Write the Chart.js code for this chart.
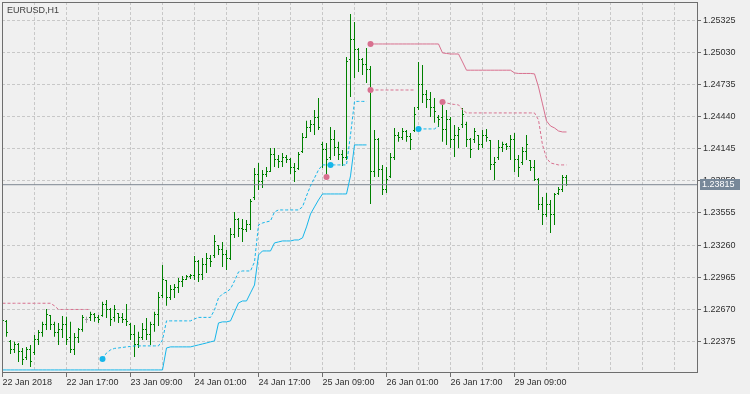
<!DOCTYPE html>
<html>
<head>
<meta charset="utf-8">
<title>EURUSD,H1</title>
<script src="https://cdn.jsdelivr.net/npm/chart.js@4.4.1/dist/chart.umd.min.js"></script>
<style>
  html, body { margin: 0; padding: 0; background: #f0f0f0; }
  #wrap { width: 750px; height: 394px; }
</style>
</head>
<body>
<div id="wrap"><canvas id="chart" width="750" height="394"></canvas></div>
<script>
// EURUSD H1, 22 Jan 2018 00:00 .. 29 Jan 2018 21:00 (142 hourly bars)
const symbolTitle = 'EURUSD,H1';
const timeLabels = ['22 Jan 2018', '22 Jan 17:00', '23 Jan 09:00', '24 Jan 01:00', '24 Jan 17:00',
  '25 Jan 09:00', '26 Jan 01:00', '26 Jan 17:00', '29 Jan 09:00'];
const priceTicks = [1.22375, 1.22670, 1.22965, 1.23260, 1.23555, 1.23850,
  1.24145, 1.24440, 1.24735, 1.25030, 1.25325];
const lastPrice = 1.23815;

const opens = [
  1.22535, 1.22554, 1.22370, 1.22296, 1.22342, 1.22278, 1.22222, 1.22296, 1.22268, 1.22388,
  1.22452, 1.22526, 1.22609, 1.22526, 1.22452, 1.22480, 1.22526, 1.22406, 1.22296, 1.22406,
  1.22480, 1.22572, 1.22590, 1.22618, 1.22590, 1.22609, 1.22710, 1.22664, 1.22590, 1.22627,
  1.22590, 1.22572, 1.22526, 1.22434, 1.22342, 1.22406, 1.22480, 1.22434, 1.22526, 1.22618,
  1.22793, 1.22930, 1.22774, 1.22847, 1.22866, 1.22921, 1.22948, 1.22967, 1.22976, 1.23105,
  1.22985, 1.23077, 1.23141, 1.23160, 1.23252, 1.23215, 1.23169, 1.23141, 1.23353, 1.23491,
  1.23417, 1.23399, 1.23445, 1.23693, 1.23905, 1.23840, 1.23905, 1.23933, 1.24089, 1.24043,
  1.24025, 1.24061, 1.24043, 1.23969, 1.23960, 1.24116, 1.24245, 1.24337, 1.24365, 1.24429,
  1.24181, 1.24135, 1.24061, 1.24227, 1.24153, 1.24089, 1.24061, 1.24962, 1.25146, 1.25054,
  1.24962, 1.24916, 1.24870, 1.23933, 1.24227, 1.23951, 1.23767, 1.23887, 1.24061, 1.24272,
  1.24245, 1.24300, 1.24254, 1.24310, 1.24521, 1.24732, 1.24640, 1.24595, 1.24521, 1.24429,
  1.24429, 1.24319, 1.24411, 1.24227, 1.24272, 1.24365, 1.24365, 1.24227, 1.24227, 1.24263,
  1.24181, 1.24272, 1.24218, 1.23997, 1.24061, 1.24153, 1.24181, 1.24162, 1.24227, 1.24043,
  1.24015, 1.24116, 1.24034, 1.23969, 1.23859, 1.23629, 1.23537, 1.23629, 1.23537, 1.23730,
  1.23767, 1.23877
];
const highs = [
  1.22590, 1.22572, 1.22388, 1.22370, 1.22360, 1.22314, 1.22324, 1.22342, 1.22434, 1.22480,
  1.22554, 1.22673, 1.22618, 1.22554, 1.22544, 1.22609, 1.22600, 1.22554, 1.22452, 1.22498,
  1.22618, 1.22600, 1.22646, 1.22636, 1.22618, 1.22738, 1.22756, 1.22682, 1.22710, 1.22636,
  1.22636, 1.22719, 1.22544, 1.22526, 1.22462, 1.22544, 1.22590, 1.22554, 1.22646, 1.22829,
  1.23076, 1.22939, 1.22893, 1.22902, 1.22958, 1.22976, 1.22985, 1.22994, 1.23160, 1.23123,
  1.23141, 1.23187, 1.23169, 1.23353, 1.23261, 1.23289, 1.23215, 1.23417, 1.23565, 1.23509,
  1.23500, 1.23491, 1.23684, 1.23969, 1.24015, 1.23951, 1.23979, 1.24153, 1.24153, 1.24089,
  1.24107, 1.24089, 1.24061, 1.24015, 1.24116, 1.24291, 1.24402, 1.24411, 1.24503, 1.24613,
  1.24209, 1.24199, 1.24346, 1.24319, 1.24209, 1.24135, 1.24990, 1.25385, 1.25312, 1.25073,
  1.24981, 1.25073, 1.24907, 1.24319, 1.24245, 1.23997, 1.23979, 1.24107, 1.24337, 1.24300,
  1.24337, 1.24319, 1.24291, 1.24530, 1.24944, 1.24916, 1.24686, 1.24668, 1.24613, 1.24457,
  1.24548, 1.24503, 1.24438, 1.24365, 1.24346, 1.24521, 1.24393, 1.24245, 1.24337, 1.24272,
  1.24319, 1.24328, 1.24227, 1.24070, 1.24227, 1.24209, 1.24199, 1.24272, 1.24291, 1.24089,
  1.24162, 1.24272, 1.24043, 1.24043, 1.23877, 1.23703, 1.23739, 1.23675, 1.23739, 1.23794,
  1.23905, 1.23905
];
const lows = [
  1.22517, 1.22416, 1.22259, 1.22268, 1.22186, 1.22158, 1.22204, 1.22140, 1.22250, 1.22342,
  1.22416, 1.22480, 1.22480, 1.22416, 1.22342, 1.22406, 1.22342, 1.22268, 1.22250, 1.22360,
  1.22462, 1.22544, 1.22563, 1.22554, 1.22544, 1.22600, 1.22590, 1.22517, 1.22554, 1.22544,
  1.22544, 1.22517, 1.22388, 1.22232, 1.22314, 1.22388, 1.22388, 1.22342, 1.22462, 1.22517,
  1.22774, 1.22701, 1.22756, 1.22774, 1.22820, 1.22875, 1.22939, 1.22948, 1.22939, 1.22921,
  1.22939, 1.23003, 1.23059, 1.23141, 1.23169, 1.23059, 1.23031, 1.23123, 1.23325, 1.23334,
  1.23289, 1.23381, 1.23399, 1.23675, 1.23767, 1.23785, 1.23887, 1.23933, 1.23979, 1.23969,
  1.23979, 1.24015, 1.23914, 1.23840, 1.23951, 1.24107, 1.24245, 1.24300, 1.24272, 1.24319,
  1.23969, 1.23887, 1.24043, 1.24080, 1.24043, 1.23988, 1.24043, 1.24622, 1.24797, 1.24852,
  1.24824, 1.24751, 1.23638, 1.23887, 1.23887, 1.23721, 1.23739, 1.23877, 1.24043, 1.24209,
  1.24227, 1.24209, 1.24135, 1.24300, 1.24503, 1.24567, 1.24521, 1.24438, 1.24384, 1.24346,
  1.24209, 1.24181, 1.24153, 1.24070, 1.24153, 1.24337, 1.24162, 1.24061, 1.24199, 1.24135,
  1.24153, 1.24209, 1.23951, 1.23859, 1.24043, 1.24116, 1.24135, 1.24043, 1.23933, 1.23887,
  1.23997, 1.24043, 1.23942, 1.23850, 1.23583, 1.23445, 1.23519, 1.23372, 1.23445, 1.23721,
  1.23748, 1.23805
];
const closes = [
  1.22563, 1.22452, 1.22296, 1.22342, 1.22278, 1.22204, 1.22296, 1.22186, 1.22388, 1.22452,
  1.22526, 1.22618, 1.22526, 1.22452, 1.22480, 1.22526, 1.22388, 1.22296, 1.22406, 1.22480,
  1.22590, 1.22572, 1.22618, 1.22590, 1.22572, 1.22710, 1.22664, 1.22572, 1.22664, 1.22590,
  1.22572, 1.22554, 1.22434, 1.22342, 1.22406, 1.22480, 1.22434, 1.22526, 1.22618, 1.22774,
  1.22939, 1.22774, 1.22847, 1.22866, 1.22921, 1.22948, 1.22967, 1.22976, 1.23105, 1.22985,
  1.23077, 1.23141, 1.23105, 1.23289, 1.23215, 1.23169, 1.23141, 1.23353, 1.23491, 1.23417,
  1.23399, 1.23445, 1.23657, 1.23905, 1.23840, 1.23905, 1.23933, 1.24089, 1.24043, 1.24025,
  1.24061, 1.24043, 1.23969, 1.23933, 1.24089, 1.24245, 1.24337, 1.24365, 1.24429, 1.24337,
  1.24135, 1.24043, 1.24227, 1.24153, 1.24089, 1.24061, 1.24944, 1.25146, 1.25054, 1.24962,
  1.24916, 1.24870, 1.23933, 1.24227, 1.23951, 1.23767, 1.23859, 1.24061, 1.24272, 1.24245,
  1.24300, 1.24254, 1.24227, 1.24457, 1.24732, 1.24640, 1.24595, 1.24521, 1.24485, 1.24411,
  1.24319, 1.24411, 1.24227, 1.24272, 1.24319, 1.24457, 1.24227, 1.24135, 1.24300, 1.24181,
  1.24272, 1.24245, 1.23997, 1.24015, 1.24153, 1.24181, 1.24162, 1.24227, 1.24043, 1.23969,
  1.24116, 1.24181, 1.23969, 1.23859, 1.23629, 1.23537, 1.23629, 1.23537, 1.23721, 1.23767,
  1.23877, 1.23815
];

// channel indicator, each piece starts at the given bar index
const upperSolidStart = 92;
const upperSolid = [
  1.25109, 1.25109, 1.25109, 1.25109, 1.25109, 1.25109, 1.25109, 1.25109, 1.25109, 1.25109,
  1.25109, 1.25109, 1.25109, 1.25109, 1.25109, 1.25109, 1.25109, 1.25109,
  1.25027, 1.25022, 1.25017, 1.25017, 1.25017, 1.24944,
  1.24868, 1.24868, 1.24868, 1.24868, 1.24868, 1.24868, 1.24868, 1.24868, 1.24868, 1.24868,
  1.24868, 1.24868, 1.24843, 1.24838, 1.24838, 1.24838, 1.24838, 1.24834,
  1.24714, 1.24558, 1.24401, 1.24355, 1.24337, 1.24309, 1.24300, 1.24300
];
const upperDashAStart = 0;
const upperDashA = [
  1.22725, 1.22725, 1.22725, 1.22725, 1.22725, 1.22725, 1.22725, 1.22725, 1.22725, 1.22725,
  1.22725, 1.22725, 1.22725, 1.22701, 1.22668, 1.22668, 1.22668, 1.22668, 1.22668, 1.22668,
  1.22668, 1.22668, 1.22668
];
const upperDashBStart = 92;
const upperDashB = [1.24686, 1.24686, 1.24686, 1.24686, 1.24686, 1.24686,
  1.24686, 1.24686, 1.24686, 1.24686, 1.24686, 1.24686];
const upperDashCStart = 110;
const upperDashC = [
  1.24576, 1.24567, 1.24558, 1.24553, 1.24549, 1.24503,
  1.24475, 1.24475, 1.24475, 1.24475, 1.24475, 1.24475, 1.24475, 1.24475, 1.24475,
  1.24475, 1.24475, 1.24475, 1.24475, 1.24475, 1.24475, 1.24475, 1.24475, 1.24475,
  1.24411, 1.24181, 1.24061, 1.24015, 1.24006, 1.23997, 1.23997, 1.23997
];
const lowerSolidStart = 0;
const lowerSolid = [
  1.22112, 1.22112, 1.22112, 1.22112, 1.22112, 1.22112, 1.22112, 1.22112, 1.22112, 1.22112,
  1.22112, 1.22112, 1.22112, 1.22112, 1.22112, 1.22112, 1.22112, 1.22112, 1.22112, 1.22112,
  1.22112, 1.22112, 1.22112, 1.22112, 1.22112, 1.22112, 1.22112, 1.22112, 1.22112, 1.22112,
  1.22112, 1.22112, 1.22112, 1.22112, 1.22112, 1.22112, 1.22112, 1.22112, 1.22112, 1.22112,
  1.22112, 1.22314, 1.22324, 1.22324, 1.22324, 1.22324, 1.22324, 1.22324, 1.22333, 1.22342,
  1.22351, 1.22360, 1.22370, 1.22379, 1.22544, 1.22554, 1.22554, 1.22563, 1.22646, 1.22728,
  1.22746, 1.22746, 1.22820, 1.22893, 1.23169, 1.23206, 1.23206, 1.23206, 1.23280, 1.23289,
  1.23298, 1.23298, 1.23298, 1.23307, 1.23307, 1.23326, 1.23427, 1.23546, 1.23611, 1.23675,
  1.23730, 1.23730, 1.23730, 1.23730, 1.23730, 1.23730, 1.23730, 1.23896, 1.24181, 1.24181,
  1.24181, 1.24181
];
const lowerDashAStart = 25;
const lowerDashA = [
  1.22213, 1.22268, 1.22296, 1.22310, 1.22314, 1.22319, 1.22324, 1.22328,
  1.22333, 1.22333, 1.22333, 1.22333, 1.22333, 1.22333, 1.22333, 1.22388,
  1.22563, 1.22563, 1.22563, 1.22563, 1.22563, 1.22563, 1.22563, 1.22581,
  1.22595, 1.22595, 1.22595, 1.22595, 1.22664, 1.22774, 1.22811, 1.22829, 1.22857,
  1.22930, 1.23013, 1.23022, 1.23022, 1.23022, 1.23105, 1.23445, 1.23463, 1.23473,
  1.23482, 1.23565, 1.23583, 1.23583, 1.23583, 1.23583, 1.23583, 1.23583, 1.23611,
  1.23712, 1.23804, 1.23877, 1.23951, 1.23997, 1.23997, 1.23997, 1.23997, 1.23997,
  1.23997, 1.23997, 1.24272, 1.24581, 1.24581, 1.24581, 1.24581
];
const lowerDashBStart = 104;
const lowerDashB = [1.24328, 1.24328, 1.24328, 1.24328, 1.24328, 1.24355];

// signal dots: bar index and price
const upperDotBars = [81, 92, 92, 110];
const upperDotPrices = [1.23887, 1.25109, 1.24686, 1.24576];
const lowerDotBars = [25, 82, 104];
const lowerDotPrices = [1.22213, 1.23997, 1.24328];

const GREEN = 'rgb(0,128,0)';
const DOJI = '#a0a0a0';
const PINK = '#d8708f';
const CYAN = '#16b6ea';
const GRID = '#c8c8c8';
const FRAME = '#6e6e6e';
const TEXT = '#303030';
const FONT = "'Liberation Sans', Arial, sans-serif";

Chart.defaults.font.family = FONT;
Chart.defaults.font.size = 9;

// open tick sits one pixel left of the bar, close tick one pixel right
function tickImage(col, color) {
  const c = document.createElement('canvas');
  c.width = 3;
  c.height = 1;
  const g = c.getContext('2d');
  g.fillStyle = color;
  g.fillRect(col, 0, 1, 1);
  return c;
}
const openTick = tickImage(0, GREEN);
const closeTick = tickImage(2, GREEN);
const openTickDoji = tickImage(0, DOJI);
const closeTickDoji = tickImage(2, DOJI);
const isDoji = i => opens[i] === closes[i];

const piece = (start, vals) => vals.map((v, k) => ({ x: start + k, y: v }));
const dots = (bars, prices) => bars.map((b, k) => ({ x: b, y: prices[k] }));

const lineStyle = (color, dashed) => ({
  type: 'line',
  borderColor: color,
  borderWidth: 1,
  borderDash: dashed ? [3, 2] : [],
  pointRadius: 0,
  tension: 0,
  fill: false,
  order: 1
});

const chromePlugin = {
  id: 'chrome',
  beforeDraw(chart) {
    const { ctx, width, height } = chart;
    ctx.save();
    ctx.fillStyle = '#f0f0f0';
    ctx.fillRect(0, 0, width, height);
    ctx.restore();
  },
  afterDraw(chart) {
    const { ctx, chartArea: a } = chart;
    const y = chart.scales.y;
    ctx.save();
    ctx.strokeStyle = FRAME;
    ctx.lineWidth = 1;
    ctx.strokeRect(a.left + 0.5, a.top + 0.5, a.right - a.left, a.bottom - a.top);

    ctx.font = '9px ' + FONT;
    ctx.fillStyle = '#404040';
    ctx.textBaseline = 'alphabetic';
    ctx.fillText(symbolTitle, a.left + 5, a.top + 11);

    // last price tag on the price axis
    const py = Math.round(y.getPixelForValue(lastPrice));
    ctx.fillStyle = '#778899';
    ctx.fillRect(a.right + 3, py - 6, 40, 11);
    ctx.fillStyle = '#ffffff';
    ctx.textBaseline = 'middle';
    ctx.fillText(lastPrice.toFixed(5), a.right + 5, py);
    ctx.restore();
  }
};

new Chart(document.getElementById('chart'), {
  type: 'line',
  data: {
    datasets: [
      { type: 'scatter', data: dots(upperDotBars, upperDotPrices), pointRadius: 3,
        backgroundColor: PINK, borderWidth: 0, order: 0 },
      { type: 'scatter', data: dots(lowerDotBars, lowerDotPrices), pointRadius: 3,
        backgroundColor: CYAN, borderWidth: 0, order: 0 },
      { ...lineStyle(PINK, false), data: piece(upperSolidStart, upperSolid) },
      { ...lineStyle(PINK, true), data: piece(upperDashAStart, upperDashA) },
      { ...lineStyle(PINK, true), data: piece(upperDashBStart, upperDashB) },
      { ...lineStyle(PINK, true), data: piece(upperDashCStart, upperDashC) },
      { ...lineStyle(CYAN, false), data: piece(lowerSolidStart, lowerSolid) },
      { ...lineStyle(CYAN, true), data: piece(lowerDashAStart, lowerDashA) },
      { ...lineStyle(CYAN, true), data: piece(lowerDashBStart, lowerDashB) },
      { type: 'line', data: [{ x: -0.125, y: lastPrice }, { x: 173.625, y: lastPrice }],
        borderColor: '#7d8691', borderWidth: 1, pointRadius: 0, order: 2 },
      { type: 'scatter', data: opens.map((v, i) => ({ x: i, y: v })), pointRadius: 1,
        pointStyle: c => isDoji(c.dataIndex) ? openTickDoji : openTick, order: 3 },
      { type: 'scatter', data: closes.map((v, i) => ({ x: i, y: v })), pointRadius: 1,
        pointStyle: c => isDoji(c.dataIndex) ? closeTickDoji : closeTick, order: 3 },
      { type: 'bar', data: highs.map((h, i) => ({ x: i, y: [lows[i], h] })),
        backgroundColor: c => isDoji(c.dataIndex) ? DOJI : GREEN,
        borderWidth: 0, barThickness: 1, inflateAmount: 0, order: 4 }
    ]
  },
  options: {
    responsive: false,
    animation: false,
    devicePixelRatio: 1,
    events: [],
    layout: { autoPadding: false, padding: { left: 2, top: 2, right: 0, bottom: 0 } },
    plugins: {
      legend: { display: false },
      tooltip: { enabled: false },
      title: { display: false }
    },
    scales: {
      x: {
        type: 'linear',
        min: -0.125,
        max: 173.625,
        offset: false,
        afterBuildTicks: s => {
          const t = [];
          for (let v = 0; v <= 168; v += 8) t.push({ value: v });
          s.ticks = t;
        },
        afterFit: s => { s.height = 22; s.paddingLeft = 0; s.paddingRight = 0; },
        grid: {
          offset: false,
          color: GRID,
          tickLength: 5,
          tickColor: c => (c.tick && c.tick.value % 16 === 0 && c.tick.value / 16 < timeLabels.length)
            ? FRAME : 'rgba(0,0,0,0)'
        },
        border: { display: false, dash: [3, 2] },
        ticks: {
          autoSkip: false,
          maxRotation: 0,
          minRotation: 0,
          align: 'start',
          padding: 0,
          color: TEXT,
          callback: v => (v % 16 === 0 && v / 16 < timeLabels.length) ? timeLabels[v / 16] : ''
        }
      },
      y: {
        type: 'linear',
        position: 'right',
        min: 1.22093,
        max: 1.25495,
        beginAtZero: false,
        afterBuildTicks: s => { s.ticks = priceTicks.map(v => ({ value: v })); },
        afterFit: s => { s.width = 53; s.paddingTop = 0; s.paddingBottom = 0; },
        grid: { color: GRID, tickLength: 4, tickColor: FRAME },
        border: { display: false, dash: [3, 2] },
        ticks: { padding: 2, color: TEXT, callback: v => v.toFixed(5) }
      }
    }
  },
  plugins: [chromePlugin]
});
</script>
</body>
</html>
